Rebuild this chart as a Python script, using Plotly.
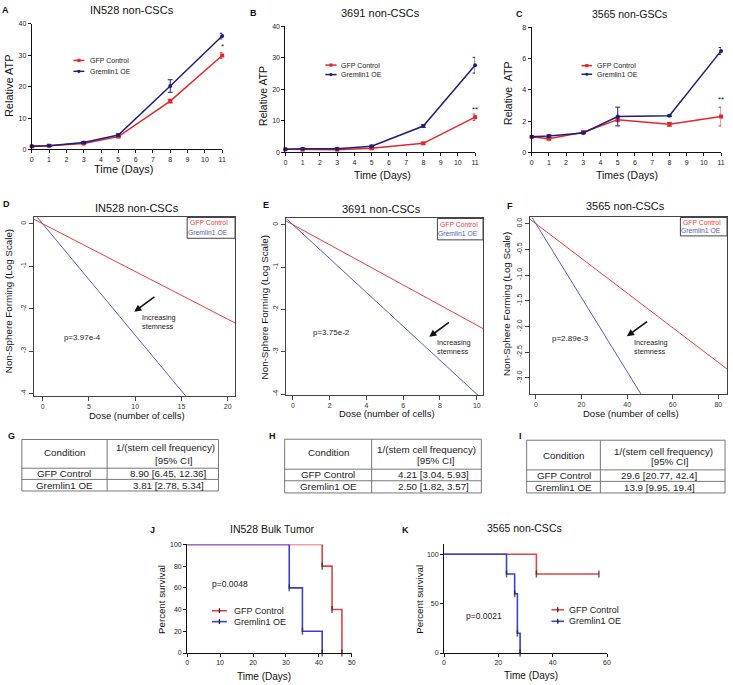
import plotly.graph_objects as go

W, H = 733, 685
def PX(x): return x / W
def PY(y): return 1 - y / H

FONT = "Arial, Liberation Sans, Helvetica, sans-serif"
RED = "#e4262c"; NAVY = "#1f1f7a"
KRED = "#dd4646"; KBLUE = "#3d3dd8"
RRED = "#ee3b3b"; RBLUE = "#5a5ab8"

series_names = ["GFP Control", "Gremlin1 OE"]

# ---- A/B/C: relative ATP over time ----
days = [0, 1, 3, 5, 8, 11]
a_gfp = [1.0, 1.2, 1.9, 4.1, 15.4, 29.9]
a_gfp_err = [0.2, 0.2, 0.2, 0.3, 0.6, 0.9]
a_grem = [1.0, 1.2, 2.2, 4.6, 20.2, 36.1]
a_grem_err = [0.2, 0.2, 0.3, 0.4, 2.0, 0.9]
b_gfp = [1.0, 0.9, 0.9, 1.3, 2.9, 11.2]
b_gfp_err = [0.1, 0.1, 0.1, 0.2, 0.3, 1.0]
b_grem = [1.0, 1.2, 1.2, 2.0, 8.4, 27.7]
b_grem_err = [0.1, 0.2, 0.2, 0.3, 0.4, 2.5]
c_gfp = [1.0, 0.88, 1.3, 2.1, 1.8, 2.3]
c_gfp_err = [0.05, 0.08, 0.08, 0.1, 0.12, 0.6]
c_grem = [1.0, 1.05, 1.25, 2.3, 2.35, 6.5]
c_grem_err = [0.05, 0.08, 0.05, 0.6, 0.05, 0.22]
sig_marks = ["*", "**", "**"]
sig_y = [32.7, 13.6, 3.38]

# ---- D/E/F: limiting dilution fits (line endpoints) ----
d_dose = [-1, 21]; d_gfp = [0.112, -2.36]; d_grem = [0.262, -5.51]
e_dose = [-1, 11]; e_gfp = [0.238, -2.61]; e_grem = [0.40, -4.40]
f_dose = [-5, 85]; f_gfp = [0.169, -2.87]; f_grem = [0.36, -6.12]
p_values = ["p=3.97e-4", "p=3.75e-2", "p=2.89e-3"]

# ---- G/H/I tables ----
table_header = ["Condition", "1/(stem cell frequency)<br>[95% CI]"]
g_values = ["8.90 [6.45, 12.36]", "3.81 [2.78, 5.34]"]
h_values = ["4.21 [3.04, 5.93]", "2.50 [1.82, 3.57]"]
i_values = ["29.6 [20.77, 42.4]", "13.9 [9.95, 19.4]"]

# ---- J/K survival ----
j_gfp_t = [0, 41, 44, 47]; j_gfp_s = [100, 80, 40, 0]
j_grem_t = [0, 31, 35, 41]; j_grem_s = [100, 60, 20, 0]
k_gfp_t = [0, 34, 57]; k_gfp_s = [100, 80, 80]
k_grem_t = [0, 23, 26, 27, 28]; k_grem_s = [100, 80, 60, 20, 0]
surv_p = ["p=0.0048", "p=0.0021"]

fig = go.Figure()
ann = []
shapes = []

def txt(t, x, y, size, color="#111", bold=False, angle=0, xanchor="center", align="center"):
    if bold:
        t = "<b>" + t + "</b>"
    ann.append(dict(text=t, x=PX(x), y=PY(y), xref="paper", yref="paper", showarrow=False,
                    xanchor=xanchor, yanchor="middle", textangle=angle, align=align,
                    font=dict(family=FONT, size=size, color=color)))

gp = dict(showline=True, linecolor="#111", linewidth=1, ticks="outside", ticklen=3,
          tickwidth=1, tickcolor="#111", showgrid=False, zeroline=False,
          tickfont=dict(size=7, color="#222", family=FONT))
rs = dict(showline=True, mirror=True, linecolor="#444", linewidth=1, ticks="outside",
          ticklen=4, tickwidth=1, tickcolor="#444", showgrid=False, zeroline=False,
          tickfont=dict(size=7, color="#333", family=FONT))

layout_axes = {}
def set_axes(i, xdom, ydom, xrange, yrange, style, xkw=None, ykw=None):
    xa = "xaxis" if i == 1 else f"xaxis{i}"
    ya = "yaxis" if i == 1 else f"yaxis{i}"
    xid = "x" if i == 1 else f"x{i}"
    yid = "y" if i == 1 else f"y{i}"
    xd = dict(style, domain=[PX(xdom[0]), PX(xdom[1])], range=xrange, anchor=yid)
    yd = dict(style, domain=[PY(ydom[1]), PY(ydom[0])], range=yrange, anchor=xid)
    if xkw: xd.update(xkw)
    if ykw: yd.update(ykw)
    layout_axes[xa] = xd
    layout_axes[ya] = yd
    return xid, yid

# A, B, C
abc = [
    (a_gfp, a_gfp_err, a_grem, a_grem_err, (30, 222), (20, 147), [0, 40], [0, 10, 20, 30, 40]),
    (b_gfp, b_gfp_err, b_grem, b_grem_err, (285.7, 477), (22.7, 150), [0, 40], [0, 10, 20, 30, 40]),
    (c_gfp, c_gfp_err, c_grem, c_grem_err, (534, 725), (23.7, 150), [0, 8], [0, 2, 4, 6, 8]),
]
for k, (g, ge, r, re_, xd, yd, yr, yt) in enumerate(abc):
    xid, yid = set_axes(k + 1, xd, yd, [0, 11], yr, gp,
                        dict(tickvals=list(range(12))), dict(tickvals=yt))
    fig.add_trace(go.Scatter(x=days, y=g, mode="lines+markers", xaxis=xid, yaxis=yid,
                             line=dict(color=RED, width=1.5), marker=dict(symbol="square", size=4, color=RED),
                             error_y=dict(type="data", array=ge, color=RED, thickness=1, width=2.5),
                             cliponaxis=False, showlegend=False, name=series_names[0]))
    fig.add_trace(go.Scatter(x=days, y=r, mode="lines+markers", xaxis=xid, yaxis=yid,
                             line=dict(color=NAVY, width=1.5), marker=dict(symbol="circle", size=4, color=NAVY),
                             error_y=dict(type="data", array=re_, color=NAVY, thickness=1, width=2.5),
                             cliponaxis=False, showlegend=False, name=series_names[1]))
    ann.append(dict(text=sig_marks[k], x=11, y=sig_y[k], xref=xid, yref=yid, showarrow=False,
                    font=dict(family=FONT, size=8, color="#222")))

# panel texts A-C
txt("A", 4, 6, 9, bold=True); txt("IN528 non-CSCs", 130.7, 6, 11)
txt("Relative ATP", 7, 82, 11, angle=-90); txt("Time (Days)", 123, 166.7, 11)
txt("B", 253.3, 9, 9, bold=True); txt("3691 non-CSCs", 381.3, 8.7, 11)
txt("Relative ATP", 263, 93, 10.5, angle=-90); txt("Time (Days)", 383.3, 173, 10.5)
txt("C", 521.7, 9.7, 9, bold=True); txt("3565 non-GSCs", 632.3, 9.7, 10.5)
txt("Relative&nbsp;&nbsp;ATP", 510, 90, 10.5, angle=-90); txt("Times (Days)", 630, 173, 10.5)

def gp_legend(x0, x1, ys, tx, size):
    cols = [RED, NAVY]
    for j in range(2):
        y = ys[j]
        shapes.append(dict(type="line", xref="paper", yref="paper", x0=PX(x0), x1=PX(x1),
                           y0=PY(y), y1=PY(y), line=dict(color=cols[j], width=1.5)))
        xm = (x0 + x1) / 2
        shapes.append(dict(type="rect" if j == 0 else "circle", xref="paper", yref="paper",
                           x0=PX(xm - 1.6), x1=PX(xm + 1.6), y0=PY(y + 1.6), y1=PY(y - 1.6),
                           fillcolor=cols[j], line=dict(color=cols[j], width=0)))
        txt(series_names[j], tx, y, size, color="#222", xanchor="left")

gp_legend(72, 83, [57, 68], 86.5, 7)
gp_legend(326, 337.3, [61.7, 71.3], 340, 7)
gp_legend(584.3, 595, [62.3, 71], 598, 7)

# D, E, F
def_specs = [
    (d_dose, d_gfp, d_grem, (32.3, 235), (215.7, 395.7), [-0.93, 20.8], [-4.05, 0.147],
     [0, 5, 10, 15, 20], [0, -1, -2, -3, -4], ["0", "-1", "-2", "-3", "-4"]),
    (e_dose, e_gfp, e_grem, (286, 485), (216.7, 395), [-0.394, 10.34], [-4.02, 0.147],
     [0, 2, 4, 6, 8, 10], [0, -1, -2, -3, -4], ["0", "-1", "-2", "-3", "-4"]),
    (f_dose, f_gfp, f_grem, (532.3, 731), (215.7, 393.7), [-2.61, 83.8], [-3.31, 0.121],
     [0, 20, 40, 60, 80], [0, -0.5, -1, -1.5, -2, -2.5, -3],
     ["0.0", "-0.5", "-1.0", "-1.5", "-2.0", "-2.5", "-3.0"]),
]
for k, (dx, dg, dr, xd, yd, xr, yr, xt, yt, ytt) in enumerate(def_specs):
    xid, yid = set_axes(4 + k, xd, yd, xr, yr, rs, dict(tickvals=xt),
                        dict(tickvals=yt, ticktext=ytt, tickangle=-90))
    fig.add_trace(go.Scatter(x=dx, y=dg, mode="lines", xaxis=xid, yaxis=yid,
                             line=dict(color=RRED, width=1), showlegend=False, name=series_names[0]))
    fig.add_trace(go.Scatter(x=dx, y=dr, mode="lines", xaxis=xid, yaxis=yid,
                             line=dict(color=RBLUE, width=1), showlegend=False, name=series_names[1]))

txt("D", 5, 202.3, 9, bold=True); txt("IN528 non-CSCs", 135.7, 206, 11)
txt("Non-Sphere Forming (Log Scale)", 7.3, 300, 9.8, angle=-90); txt("Dose (number of cells)", 135.7, 416, 9.5)
txt("E", 266, 202.7, 9, bold=True); txt("3691 non-CSCs", 382.7, 206.7, 11)
txt("Non-Sphere Forming (Log Scale)", 265, 306.7, 9.8, angle=-90); txt("Dose (number of cells)", 387.7, 413.3, 9.5)
txt("F", 511.7, 204.3, 9, bold=True); txt("3565 non-CSCs", 629, 204.3, 11)
txt("Non-Sphere Forming (Log Scale)", 509.3, 303, 9.8, angle=-90); txt("Dose (number of cells)", 634.3, 414, 9.5)

def r_legend(x0, x1, y0, y1, tx_right, ys, size):
    shapes.append(dict(type="rect", xref="paper", yref="paper", x0=PX(x0), x1=PX(x1),
                       y0=PY(y1), y1=PY(y0), line=dict(color="#444", width=1), fillcolor="white"))
    txt(series_names[0], tx_right, ys[0], size, color=RRED, xanchor="right")
    txt(series_names[1], tx_right, ys[1], size, color=RBLUE, xanchor="right")

r_legend(186.7, 235, 215.7, 236.7, 229.5, [220.9, 231], 6.8)
r_legend(439, 485, 216.7, 238.3, 481.7, [222.3, 232.3], 6.8)
r_legend(684, 731, 215.7, 234.3, 727, [220.5, 229], 6.8)

for k, (pc, tail, head, incx, incy) in enumerate([
    ((81.2, 336.7), (155, 295), (133.3, 311), 139, 316.7),
    ((332.2, 332.3), (452, 320.7), (430.7, 336.3), 436.7, 341.7),
    ((573, 338.3), (651.7, 320), (630, 335.7), 635.7, 341.7),
]):
    txt(p_values[k], pc[0], pc[1], 8, color="#222")
    txt("Increasing<br>stemness", incx, incy + 4.5, 7.3, color="#222", xanchor="left", align="left")
    ann.append(dict(text="", x=PX(head[0]), y=PY(head[1]), xref="paper", yref="paper",
                    ax=tail[0] - head[0], ay=tail[1] - head[1], showarrow=True,
                    arrowhead=2, arrowsize=0.9, arrowwidth=1.6, arrowcolor="#111"))

# G, H, I tables
TF = 9.8
tables = [
    ("G", (9.3, 436.7), (20, 218.3), (440, 469, 480.3, 492), 106, 168,
     [165, 173.3], [448.3, 461.7], 453, [474.5, 486.2], g_values),
    ("H", (272.7, 436), (285, 483.3), (439.7, 470, 481.7, 494), 372.7, 435.2,
     [428, 437.5], [450, 461], 453.3, [475.8, 487.6], h_values),
    ("I", (523, 436), (529, 729), (440.7, 470.7, 482.3, 494), 603.3, 662.5,
     [667, 674], [451.7, 462.3], 455.7, [476.5, 488.2], i_values),
]
for (lab, lpos, xs, ys, xsplit, c2x, hx, hy, condy, rowy, vals) in tables:
    txt(lab, lpos[0], lpos[1], 9, bold=True)
    shapes.append(dict(type="rect", xref="paper", yref="paper", x0=PX(xs[0]), x1=PX(xs[1]),
                       y0=PY(ys[3]), y1=PY(ys[0]), line=dict(color="#777", width=1)))
    for yy in ys[1:3]:
        shapes.append(dict(type="line", xref="paper", yref="paper", x0=PX(xs[0]), x1=PX(xs[1]),
                           y0=PY(yy), y1=PY(yy), line=dict(color="#777", width=1)))
    shapes.append(dict(type="line", xref="paper", yref="paper", x0=PX(xsplit), x1=PX(xsplit),
                       y0=PY(ys[3]), y1=PY(ys[0]), line=dict(color="#777", width=1)))
    txt(table_header[0], (xs[0] + xsplit) / 2, condy, TF, color="#222")
    hl = table_header[1].split("<br>")
    txt(hl[0], hx[0], hy[0], TF, color="#222")
    txt(hl[1], hx[1], hy[1], TF, color="#222")
    for j in range(2):
        txt(series_names[j], (xs[0] + xsplit) / 2, rowy[j], TF, color="#222")
        txt(vals[j], c2x, rowy[j], TF, color="#222")

# J, K survival
jk = [
    (j_gfp_t, j_gfp_s, j_grem_t, j_grem_s, (186.7, 352.7), (546, 655.7), [0, 50], [0, 100],
     [0, 10, 20, 30, 40, 50], [0, 20, 40, 60, 80, 100]),
    (k_gfp_t, k_gfp_s, k_grem_t, k_grem_s, (445.7, 610), (545.7, 655.7), [0, 60], [0, 110.3],
     [0, 20, 40, 60], [0, 50, 100]),
]
for k, (gt, gs, rt, rsv, xd, yd, xr, yr, xt, yt) in enumerate(jk):
    xid, yid = set_axes(7 + k, xd, yd, xr, yr, gp, dict(tickvals=xt), dict(tickvals=yt))
    for t, s, c in [(gt, gs, KRED), (rt, rsv, KBLUE)]:
        fig.add_trace(go.Scatter(x=t, y=s, mode="lines+markers", xaxis=xid, yaxis=yid,
                                 line=dict(color=c, width=1.6, shape="hv"),
                                 marker=dict(symbol="line-ns-open", size=[0] + [5] * (len(t) - 1),
                                             color="#222", line=dict(width=1.5, color="#222")),
                                 cliponaxis=False, showlegend=False))

txt("J", 151.7, 531.7, 9, bold=True); txt("IN528 Bulk Tumor", 272.7, 530, 10.5)
txt("Percent survival", 160.7, 601.7, 9.7, angle=-90); txt("Time (Days)", 264, 679, 10)
txt(surv_p[0], 230, 586, 8.5, color="#222")
txt("K", 407, 531.7, 9, bold=True); txt("3565 non-CSCs", 526.7, 529, 10.5)
txt("Percent survival", 420.7, 601.7, 9.7, angle=-90); txt("Time (Days)", 533.3, 678, 10)
txt(surv_p[1], 485.5, 618.3, 8.5, color="#222")

def km_legend(x0, x1, ys, tx, size):
    cols = [KRED, KBLUE]
    for j in range(2):
        y = ys[j]
        shapes.append(dict(type="line", xref="paper", yref="paper", x0=PX(x0), x1=PX(x1),
                           y0=PY(y), y1=PY(y), line=dict(color=cols[j], width=1.6)))
        xm = (x0 + x1) / 2
        shapes.append(dict(type="line", xref="paper", yref="paper", x0=PX(xm), x1=PX(xm),
                           y0=PY(y + 2.5), y1=PY(y - 2.5), line=dict(color="#222", width=1.3)))
        txt(series_names[j], tx, y, size, color="#222", xanchor="left")

km_legend(211.7, 226.7, [613, 624], 231.7, 9)
km_legend(554, 566.7, [612, 623.7], 569.3, 9)

fig.update_layout(width=W, height=H, margin=dict(l=0, r=0, t=0, b=0),
                  paper_bgcolor="white", plot_bgcolor="rgba(0,0,0,0)",
                  font=dict(family=FONT), showlegend=False, hovermode=False,
                  annotations=ann, shapes=shapes, **layout_axes)
fig.write_html("out.html", config={"displayModeBar": False, "staticPlot": True},
               post_script="document.body.style.margin='0';document.body.style.padding='0';"
                           "document.documentElement.style.overflow='hidden';")
